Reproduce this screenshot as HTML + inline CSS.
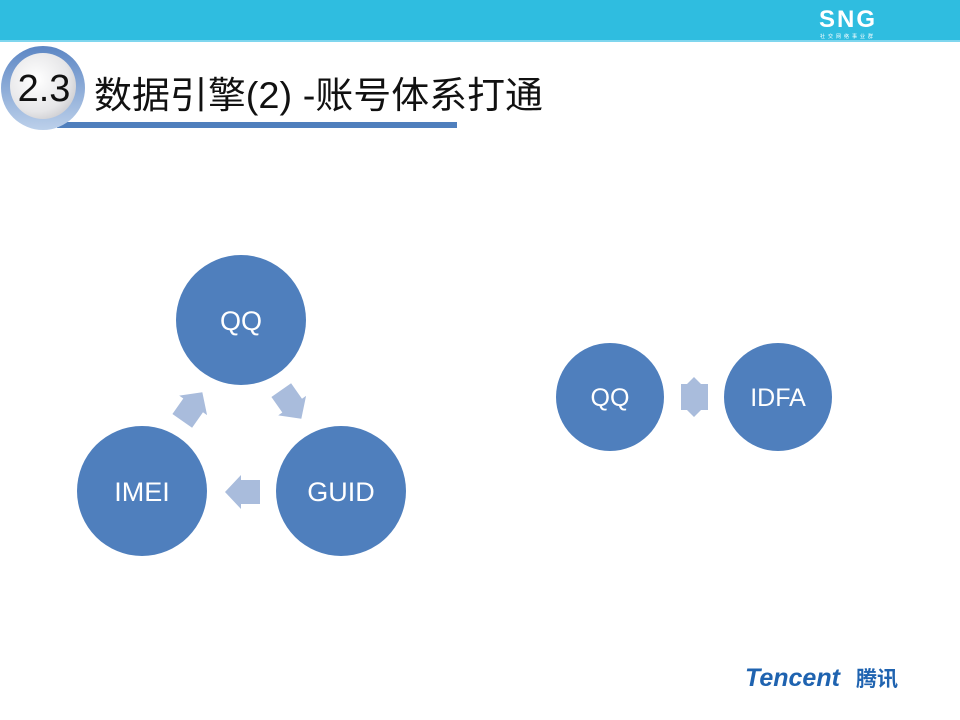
<!DOCTYPE html>
<html><head><meta charset="utf-8"><style>
html,body{margin:0;padding:0;background:#fff;}
svg{display:block;}
</style></head><body>
<svg width="960" height="720" viewBox="0 0 960 720" xmlns="http://www.w3.org/2000/svg">
<defs>
<radialGradient id="bg" cx="0.4" cy="0.4" r="0.7">
<stop offset="0" stop-color="#ffffff"/><stop offset="0.7" stop-color="#e6e6e8"/><stop offset="1" stop-color="#c8c8cc"/>
</radialGradient>
<linearGradient id="ring" x1="0" y1="0" x2="0" y2="1">
<stop offset="0" stop-color="#5c86c4"/><stop offset="1" stop-color="#bcd0ea"/>
</linearGradient>
<polygon id="ar" points="-17,-12 2,-12 2,-17 18,0 2,17 2,12 -17,12" fill="#a9bcdc"/>
</defs>
<rect x="0" y="0" width="960" height="42" fill="#2fbde0"/>
<rect x="0" y="40" width="960" height="2" fill="#7fd6ee"/>
<text x="848" y="27" font-family="Liberation Sans, sans-serif" font-size="24" font-weight="bold" fill="#fff" text-anchor="middle" letter-spacing="2">SNG</text>
<text x="848" y="38" font-family="Liberation Sans, sans-serif" font-size="5" fill="#fff" text-anchor="middle" letter-spacing="3">社交网络事业群</text>
<rect x="57" y="122" width="400" height="6" fill="#4f7fbd"/>
<circle cx="43" cy="88" r="42" fill="url(#ring)"/>
<circle cx="43" cy="86" r="33" fill="url(#bg)"/>
<text x="44" y="101" font-family="Liberation Sans, sans-serif" font-size="38" fill="#111" text-anchor="middle">2.3</text>
<text x="94" y="108" font-family="Liberation Sans, 'Noto Sans CJK SC', sans-serif" font-size="37" fill="#111" textLength="449" lengthAdjust="spacingAndGlyphs">数据引擎(2) -账号体系打通</text>
<circle cx="241" cy="320" r="65" fill="#4f7fbd"/>
<circle cx="142" cy="491" r="65" fill="#4f7fbd"/>
<circle cx="341" cy="491" r="65" fill="#4f7fbd"/>
<g font-family="Liberation Sans, sans-serif" font-size="27" fill="#fff" text-anchor="middle">
<text x="241" y="330">QQ</text>
<text x="142" y="501">IMEI</text>
<text x="341" y="501">GUID</text>
</g>
<use href="#ar" transform="translate(243,492) rotate(180)"/>
<use href="#ar" transform="translate(192,407) rotate(-55)"/>
<use href="#ar" transform="translate(291,404) rotate(55)"/>
<circle cx="610" cy="397" r="54" fill="#4f7fbd"/>
<circle cx="778" cy="397" r="54" fill="#4f7fbd"/>
<g font-family="Liberation Sans, sans-serif" font-size="25" fill="#fff" text-anchor="middle">
<text x="610" y="406">QQ</text>
<text x="778" y="406">IDFA</text>
</g>
<polygon points="681,384 687,384 694,377 701,384 708,384 708,410 701,410 694,417 687,410 681,410" fill="#a9bcdc"/>
<text x="745" y="686" font-family="Liberation Sans, sans-serif" font-size="25" font-weight="bold" font-style="italic" fill="#1f63b0">Tencent</text>
<text x="856" y="686" font-family="Liberation Sans, 'Noto Sans CJK SC', sans-serif" font-size="21" font-weight="bold" fill="#1f63b0">腾讯</text>
</svg>
</body></html>
